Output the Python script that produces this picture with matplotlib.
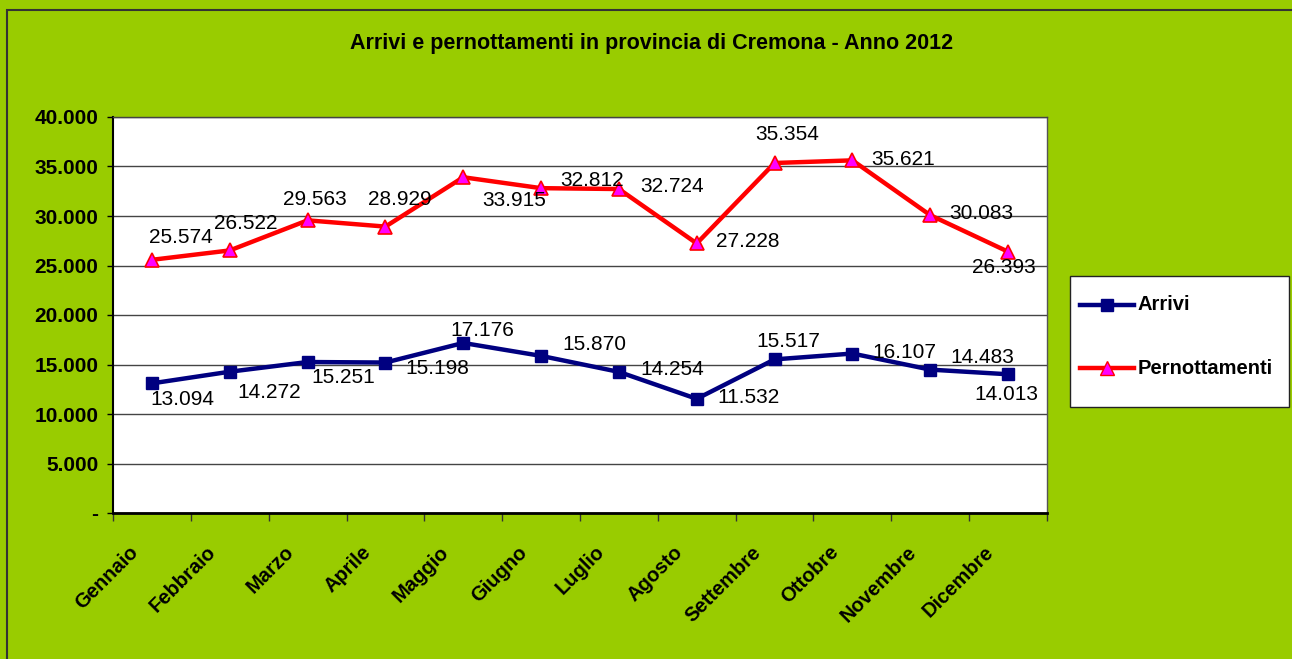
import matplotlib
matplotlib.use("Agg")
import matplotlib.pyplot as plt
from matplotlib.patches import Rectangle
from matplotlib.lines import Line2D
from matplotlib.ticker import FixedLocator, FuncFormatter
import matplotlib.transforms as mtrans

plt.rcParams['font.family'] = ['Liberation Sans', 'DejaVu Sans']

months = ["Gennaio", "Febbraio", "Marzo", "Aprile", "Maggio", "Giugno",
          "Luglio", "Agosto", "Settembre", "Ottobre", "Novembre", "Dicembre"]
arrivi = [13094, 14272, 15251, 15198, 17176, 15870,
          14254, 11532, 15517, 16107, 14483, 14013]
pernottamenti = [25574, 26522, 29563, 28929, 33915, 32812,
                 32724, 27228, 35354, 35621, 30083, 26393]
series_names = ["Arrivi", "Pernottamenti"]
title = "Arrivi e pernottamenti in provincia di Cremona - Anno 2012"

# label offsets in pixels (styling)
off_arr = [(30, -16), (39, -21), (36, -15), (52, -6), (19, 12), (53, 11),
           (53, 2), (52, 1), (14, 18), (52, 1), (52, 12), (-2, -20)]
off_per = [(29, 22), (16, 27), (7, 21), (14, 27), (51, -23), (51, 8),
           (53, 3), (51, 2), (13, 28), (51, 1), (51, 2), (-4, -16)]

W, H = 1292, 659
GREEN = "#99CC00"
NAVY = "#000080"
RED = "#FF0000"
MAG = "#FF00FF"
fig = plt.figure(figsize=(W / 100, H / 100), dpi=100, facecolor=GREEN)

# outer border
fig.patches.append(Rectangle((7 / W, -0.01), 1.02, (H - 10) / H + 0.01,
                             transform=fig.transFigure, fill=False,
                             edgecolor="#333333", linewidth=1.5))

ax = fig.add_axes([113 / W, (H - 513) / H, 934 / W, 396 / H])
ax.set_facecolor("white")
x = list(range(len(months)))

arr_style = dict(color=NAVY, linewidth=3.2, marker="s", markersize=9,
                 markerfacecolor=NAVY, markeredgecolor=NAVY)
per_style = dict(color=RED, linewidth=3.2, marker="^", markersize=10,
                 markerfacecolor=MAG, markeredgecolor=RED, markeredgewidth=1.2)

ax.plot(x, arrivi, label=series_names[0], zorder=3, clip_on=False, **arr_style)
ax.plot(x, pernottamenti, label=series_names[1], zorder=3, clip_on=False,
        **per_style)

def fmt(v):
    return f"{v:,}".replace(",", ".")

for i, v in enumerate(arrivi):
    ax.annotate(fmt(v), (i, v), xytext=off_arr[i], textcoords="offset pixels",
                ha="center", va="center", fontsize=15, zorder=4)
for i, v in enumerate(pernottamenti):
    ax.annotate(fmt(v), (i, v), xytext=off_per[i], textcoords="offset pixels",
                ha="center", va="center", fontsize=15, zorder=4)

ax.set_xlim(-0.5, len(months) - 0.5)
ax.set_ylim(0, 40000)
yt = list(range(0, 40001, 5000))
ax.set_yticks(yt)
ax.yaxis.set_major_formatter(FuncFormatter(lambda v, p: "-" if v == 0 else fmt(int(v))))
ax.grid(axis="y", color="#444444", linewidth=1)
ax.set_axisbelow(True)
ax.tick_params(axis="y", direction="out", length=4.5, width=1, pad=6,
               labelsize=15)
for lab in ax.get_yticklabels():
    lab.set_fontweight("bold")

ax.set_xticks(x)
ax.set_xticklabels(months, rotation=45, ha="right", va="center",
                   rotation_mode="anchor", fontsize=14.5, fontweight="bold")
ax.tick_params(axis="x", which="major", length=0, pad=26)
ax.xaxis.set_minor_locator(FixedLocator([i - 0.5 for i in range(len(months) + 1)]))
ax.tick_params(axis="x", which="minor", direction="out", length=6, width=1,
               color="#333333")
shift = mtrans.ScaledTranslation(-17 / 100, 0, fig.dpi_scale_trans)
for lab in ax.get_xticklabels():
    lab.set_transform(lab.get_transform() + shift)

for s in ["left", "bottom"]:
    ax.spines[s].set_color("black")
ax.spines["left"].set_linewidth(1.5)
ax.spines["bottom"].set_linewidth(2)
ax.spines["right"].set_color("#555555")
ax.spines["right"].set_linewidth(1)
ax.spines["top"].set_color("#444444")
ax.spines["top"].set_linewidth(1)

fig.text(652 / W, 1 - 43 / H, title, ha="center", va="center",
         fontsize=15.5, fontweight="bold")

# legend: frame box + entries
fig.patches.append(Rectangle((1070 / W, 1 - 407 / H), 219 / W, 131 / H,
                             transform=fig.transFigure, facecolor="white",
                             edgecolor="#222222", linewidth=1))
for name, style, yy in [(series_names[0], arr_style, 305),
                        (series_names[1], per_style, 368)]:
    yf = 1 - yy / H
    fig.lines.append(Line2D([1080 / W, 1134 / W], [yf, yf],
                            transform=fig.transFigure, linestyle="-",
                            color=style["color"], linewidth=style["linewidth"]))
    fig.lines.append(Line2D([1107 / W], [yf], transform=fig.transFigure,
                            linestyle="none", marker=style["marker"],
                            markersize=style["markersize"],
                            markerfacecolor=style["markerfacecolor"],
                            markeredgecolor=style["markeredgecolor"]))
    fig.text(1138 / W, yf, name, ha="left", va="center", fontsize=14.5,
             fontweight="bold")

fig.savefig("out.png", dpi=100, facecolor=GREEN)
